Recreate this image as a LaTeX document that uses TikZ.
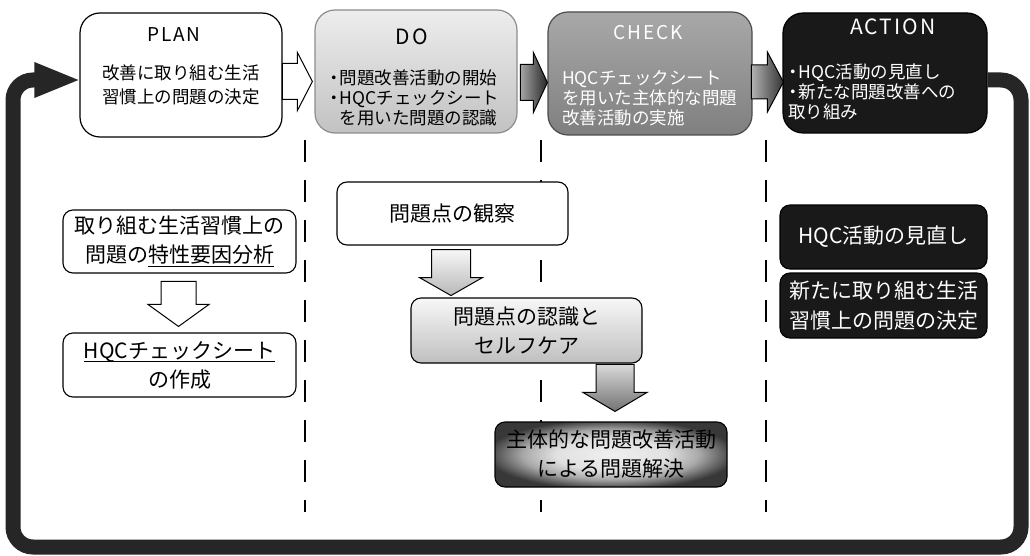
\documentclass[tikz,border=0pt]{standalone}
\usepackage{fontspec}
\setmainfont{Noto Sans CJK JP}
\newfontfamily\ttlfont[LetterSpace=10]{Noto Sans CJK JP}
\usetikzlibrary{calc}
\newsavebox\ulbox
\newcommand\uln[1]{\sbox\ulbox{#1}\rlap{\rule[-4pt]{\wd\ulbox}{1.1pt}}\usebox\ulbox}
\newcommand\bul{\makebox[0.6em]{\makebox[0pt]{・}}}
\newcommand\fs[2]{\fontsize{#1pt}{#2pt}\selectfont}
% right-pointing block arrow: tip, length, head half, shaft half, head length, style
\newcommand\arrR[6]{\path[#6] (#1) -- ++({-#5},{-#3}) -- ++(0,{#3-#4}) -- ++({-(#2-#5)},0) -- ++(0,{2*#4}) -- ++({#2-#5},0) -- ++(0,{#3-#4}) -- cycle;}
% down-pointing block arrow
\newcommand\arrD[6]{\path[#6] (#1) -- ++({-#3},{-#5}) -- ++({#3-#4},0) -- ++(0,{-(#2-#5)}) -- ++({2*#4},0) -- ++(0,{#2-#5}) -- ++({#3-#4},0) -- cycle;}
\definecolor{shA}{gray}{0.94}
\definecolor{shB}{gray}{0.88}
\definecolor{shC}{gray}{0.66}
\definecolor{shD}{gray}{0.38}
\definecolor{shE}{gray}{0.22}
\pgfdeclareradialshading{mthree}{\pgfpoint{0bp}{0bp}}{color(0bp)=(shA); color(12bp)=(shB); color(19bp)=(shC); color(24bp)=(shD); color(27bp)=(shE); color(50bp)=(shE)}
\begin{document}
\begin{tikzpicture}[x=1pt,y=-1pt,
  phase/.style={draw, rounded corners=20pt, line width=1.2pt, inner sep=0pt},
  sub/.style={draw, rounded corners=10pt, line width=1.1pt, inner sep=0pt, font=\fs{21}{29}, align=center},
  ttl/.style={font=\ttlfont\fs{19}{20}, inner sep=0pt},
  body/.style={font=\fs{17.5}{20}, inner sep=0pt},
  divline/.style={line width=1.2pt, dash pattern=on 22pt off 18pt},
  loopband/.style={line width=15pt, draw=black!85, rounded corners=20pt},
  barrow/.style={draw, line width=1pt, line join=miter}
]
\fill[white] (0,0) rectangle (1030,556);
\useasboundingbox (0,0) rectangle (1030,556);

% dashed phase dividers
\draw[divline] (305,140) -- (305,512);
\draw[divline] (541,140) -- (541,512);
\draw[divline] (766,140) -- (766,512);

% top phase boxes
\node[phase, fill=white, minimum width=202pt, minimum height=124pt] (plan) at (181,75) {};
\node[ttl] (planT) at (174,35) {PLAN};
\node[body, font=\fs{17.5}{24}, align=center] (planB) at (181,85) {改善に取り組む生活\\習慣上の問題の決定};

\node[phase, draw=black!45, top color=black!7, bottom color=black!24, minimum width=202pt, minimum height=123pt] (do) at (416,71.5) {};
\node[ttl, font=\ttlfont\fs{21}{22}] (doT) at (412,37) {DO};
\node[body, align=left, anchor=west] (doB) at (329,98) {\bul 問題改善活動の開始\\\bul HQCチェックシート\\\hspace{0.6em}を用いた問題の認識};

\node[phase, draw=black!70, top color=black!34, bottom color=black!50, minimum width=204pt, minimum height=123pt] (check) at (650,73.5) {};
\node[ttl, text=white] (checkT) at (648,33) {CHECK};
\node[body, text=white, align=left, anchor=west] (checkB) at (562,98) {HQCチェックシート\\を用いた主体的な問題\\改善活動の実施};

\node[phase, fill=black!90, draw=black, minimum width=204pt, minimum height=120pt] (action) at (885,73) {};
\node[ttl, text=white, font=\ttlfont\fs{21}{22}] (actionT) at (893,27) {ACTION};
\node[body, text=white, align=left, anchor=west] (actionB) at (788,92) {\bul HQC活動の見直し\\\bul 新たな問題改善への\\取り組み};

% loop band from ACTION back to PLAN
\coordinate (loopS) at ($(action.east)+(0,7)$);
\coordinate (loopTip) at ($(plan.west)+(-1,5)$);
\draw[loopband] (loopS) -- (1021,80) -- (1021,547) -- (13,547) -- (13,80) -- ($(loopTip)+(-41,0)$);
\fill[black!85] ($(loopTip)+(-44,-18)$) -- (loopTip) -- ($(loopTip)+(-44,18)$) -- cycle;

% block arrows between phases
\coordinate (t1) at ($(do.west)+(-2,10)$);
\coordinate (t2) at ($(check.west)+(0,9)$);
\coordinate (t3) at ($(action.west)+(1,9)$);
\arrR{t1}{30}{29}{18}{15}{barrow, fill=white}
\arrR{t2}{27}{30}{18}{14}{barrow, left color=black!35, right color=black!85}
\arrR{t3}{32}{30}{17}{16}{barrow, left color=black!30, right color=black!80}

% lower boxes
\node[sub, fill=white, minimum width=233pt, minimum height=63pt] (l1) at (179.5,241.5) {取り組む生活習慣上の\\問題の\uln{特性要因分析}};
\node[sub, fill=white, minimum width=233pt, minimum height=64pt] (l2) at (179.5,365) {\uln{HQCチェックシート}\\の作成};

\node[sub, fill=white, minimum width=231pt, minimum height=63pt] (m1) at (452.5,213.5) {問題点の観察};
\node[sub, top color=black!3, bottom color=black!25, minimum width=231pt, minimum height=65pt] (m2) at (526.5,330.5) {問題点の認識と\\セルフケア};
\node[sub, shade, shading=mthree, minimum width=232pt, minimum height=65pt] (m3) at (611,454.5) {主体的な問題改善活動\\による問題解決};

\node[sub, fill=black!90, text=white, minimum width=207pt, minimum height=64pt] (r1) at (883.5,237) {HQC活動の見直し};
\node[sub, fill=black!90, text=white, font=\fs{21}{30}, minimum width=207pt, minimum height=65pt] (r2) at (883.5,305.5) {新たに取り組む生活\\習慣上の問題の決定};

% down arrows
\coordinate (d1) at ($(l2.north)+(-1,-6)$);
\coordinate (d2) at ($(m1.south)+(-1.5,50)$);
\coordinate (d3) at ($(m3.north)+(4,-10)$);
\arrD{d1}{45}{30.5}{17.5}{22}{barrow, fill=white}
\arrD{d2}{46}{31.5}{19.5}{18}{barrow, top color=black!3, bottom color=black!28}
\arrD{d3}{47}{32}{19}{19}{barrow, top color=black!15, bottom color=black!55}
\end{tikzpicture}
\end{document}
